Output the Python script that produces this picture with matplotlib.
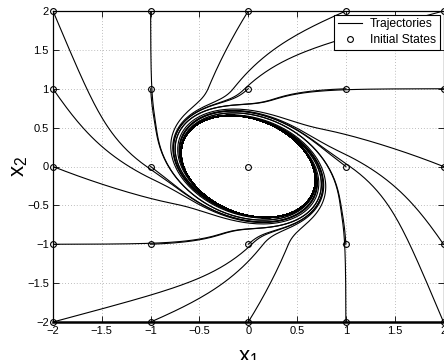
import numpy as np
import matplotlib
matplotlib.use("Agg")
import matplotlib.pyplot as plt

plt.rcParams['font.family'] = ['Liberation Sans', 'DejaVu Sans']
plt.rcParams['mathtext.default'] = 'regular'

# Initial states: a 5x5 grid over the plotted region
x1_starts = [-2, -1, 0, 1, 2]
x2_starts = [-2, -1, 0, 1, 2]

x1_ticks = [-2, -1.5, -1, -0.5, 0, 0.5, 1, 1.5, 2]
x2_ticks = [-2, -1.5, -1, -0.5, 0, 0.5, 1, 1.5, 2]
x1_ticklabels = ['\u22122', '\u22121.5', '\u22121', '\u22120.5', '0', '0.5', '1', '1.5', '2']
x2_ticklabels = ['\u22122', '\u22121.5', '\u22121', '\u22120.5', '0', '0.5', '1', '1.5', '2']

# Limit cycle: the tilted ellipse x' P x = 1
P = np.array([[2.26, 0.63], [0.63, 2.49]])
near_gain = 0.45
lock_gain = 2.5
lock_width = 0.04
rot_gain = 1.5


def radius(x):
    return np.sqrt(x @ P @ x)


def field(x):
    r = radius(x)
    if r < 1e-9:
        return np.zeros(2)
    # near the cycle: circulate along the ellipses, attracted to r = 1
    g = P @ x
    n = g / np.linalg.norm(g)
    t = np.array([-n[1], n[0]])
    d = r - 1.0
    beta = near_gain * d + lock_gain * d * np.exp(-abs(d) / lock_width)
    f_near = t - beta * n
    f_near /= np.linalg.norm(f_near)
    # farther out: decay plus a bounded counter-clockwise drive
    s = np.tanh(rot_gain * x)
    f_far = -x + np.array([-s[1], s[0]])
    f_far /= np.linalg.norm(f_far) + 1e-12
    w = np.clip((r - 1.1) / 0.5, 0.0, 1.0)
    w = w * w * (3 - 2 * w)
    return (1 - w) * f_near + w * f_far


def simulate(x0, dt=0.005, t_end=50.0):
    x = np.array(x0, dtype=float)
    if np.allclose(x, 0):
        return x[None, :]
    pts = [x.copy()]
    last = x.copy()
    for _ in range(int(t_end / dt)):
        k1 = field(x)
        k2 = field(x + 0.5 * dt * k1)
        k3 = field(x + 0.5 * dt * k2)
        k4 = field(x + dt * k3)
        x = x + dt / 6.0 * (k1 + 2 * k2 + 2 * k3 + k4)
        step = 0.03 + 0.08 * np.exp(-abs(radius(x) - 1.0) * 40.0)
        if np.linalg.norm(x - last) >= step:
            pts.append(x.copy())
            last = x.copy()
    pts.append(x.copy())
    return np.array(pts)


fig = plt.figure(figsize=(4.44, 3.60), dpi=100)
ax = fig.add_axes([53 / 444, 1 - 322 / 360, 390.5 / 444, 311 / 360])

for a in x1_starts:
    for b in x2_starts:
        tr = simulate((a, b))
        ax.plot(tr[:, 0], tr[:, 1], color='black', lw=0.8)

X0, Y0 = np.meshgrid(x1_starts, x2_starts)
ax.plot(X0.ravel(), Y0.ravel(), 'o', ms=4.2, mfc='none', mec='black', mew=0.8,
        clip_on=False, zorder=5)

line_h, = ax.plot([], [], color='black', lw=0.8, label='Trajectories')
mark_h, = ax.plot([], [], 'o', ms=4.2, mfc='none', mec='black', mew=0.8,
                  label='Initial States')

ax.set_xlim(-2, 2)
ax.set_ylim(-2, 2)
ax.set_xticks(x1_ticks)
ax.set_yticks(x2_ticks)
ax.set_xticklabels(x1_ticklabels)
ax.set_yticklabels(x2_ticklabels)
ax.tick_params(direction='in', length=4, width=0.6, labelsize=8, pad=3,
               top=True, right=True)
ax.grid(True, color='#a8a8a8', linestyle=(0, (1, 2.5)), lw=0.6)
for s in ax.spines.values():
    s.set_linewidth(0.9)
ax.spines['bottom'].set_linewidth(1.8)

ax.set_xlabel(r'$x_1$', fontsize=16, labelpad=8)
ax.set_ylabel(r'$x_2$', fontsize=16, labelpad=-2)

leg = ax.legend(handles=[line_h, mark_h], loc='upper right', fontsize=8.7,
                frameon=True, fancybox=False, framealpha=1, edgecolor='black',
                borderaxespad=0.3, handlelength=2.0, handletextpad=0.7,
                borderpad=0.3, labelspacing=0.3)
leg.get_frame().set_linewidth(0.8)

fig.savefig('out.png', dpi=100)
